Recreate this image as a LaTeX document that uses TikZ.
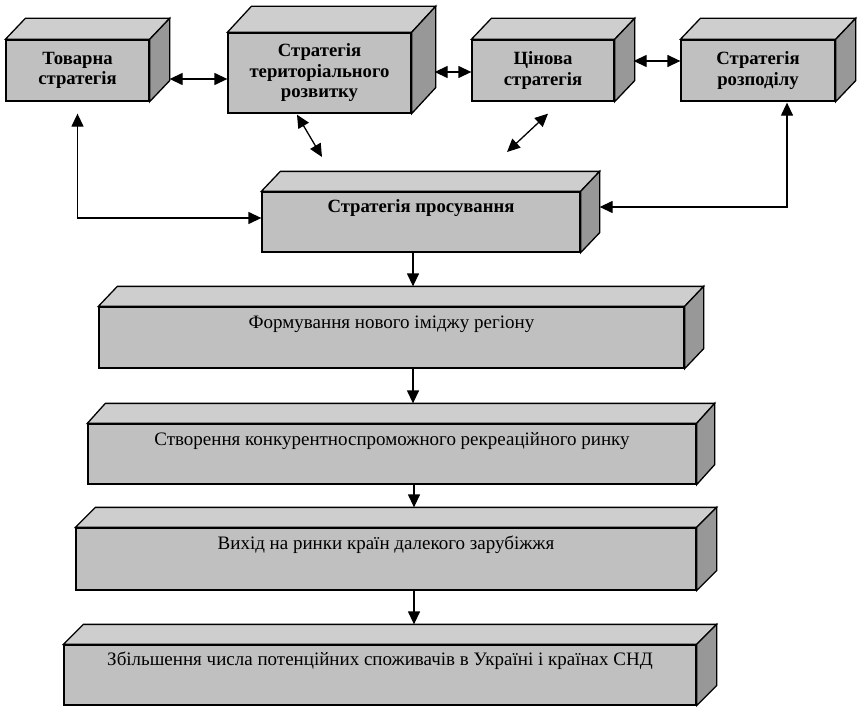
\documentclass[tikz,border=0pt]{standalone}
\usepackage{fontspec}
\setmainfont{Liberation Serif}
\usetikzlibrary{arrows.meta,calc}
\definecolor{frontc}{RGB}{192,192,192}
\definecolor{topc}{RGB}{206,206,206}
\definecolor{sidec}{RGB}{152,152,152}
\newcommand{\cubefaces}[3]{%
  \filldraw[face,fill=topc] (#1.north west) -- ++(#2,-#3) -- ($(#1.north east)+(#2,-#3)$) -- (#1.north east) -- cycle;
  \filldraw[face,fill=sidec] (#1.north east) -- ++(#2,-#3) -- ($(#1.south east)+(#2,-#3)$) -- (#1.south east) -- cycle;
}
\tikzset{
  face/.style={draw=black,line width=1.3pt},
  front/.style={draw=black,fill=frontc,line width=1.3pt,inner sep=0pt,align=center},
  topbox/.style={front,font=\bfseries\fontsize{18.7}{20.5}\selectfont},
  lbl/.style={inner sep=0pt,anchor=base},
  dbl/.style={line width=1.3pt,{Triangle[length=13pt,width=12pt]}-{Triangle[length=13pt,width=12pt]}},
  arr/.style={line width=1.3pt,-{Triangle[length=13pt,width=12pt]}},
  normtxt/.style={lbl,font=\fontsize{19}{22}\selectfont},
}
\begin{document}
\begin{tikzpicture}[x=1pt,y=-1pt]
\useasboundingbox (0,0) rectangle (858,706);
% top row
\node[topbox,minimum width=143pt,minimum height=61pt] (b1) at (77.5,70.5) {Товарна\\стратегія};
\cubefaces{b1}{20}{21}
\node[topbox,minimum width=183pt,minimum height=80pt] (b2) at (319.5,73) {Стратегія\\територіального\\розвитку};
\cubefaces{b2}{24}{26}
\node[topbox,minimum width=142pt,minimum height=61pt] (b3) at (543,70.5) {Цінова\\стратегія};
\cubefaces{b3}{20}{21}
\node[topbox,minimum width=154pt,minimum height=61pt] (b4) at (758,70.5) {Стратегія\\розподілу};
\cubefaces{b4}{20}{21}
% promotion
\node[front,minimum width=318pt,minimum height=60pt] (p) at (421,222) {};
\cubefaces{p}{19}{20}
\node[lbl,font=\bfseries\fontsize{18.7}{20.5}\selectfont] (pt) at ([yshift=-21pt]p.north) {Стратегія просування};
% lower chain
\node[front,minimum width=585pt,minimum height=61pt] (f1) at (391.5,337.5) {};
\cubefaces{f1}{19}{20}
\node[normtxt] (f1t) at ([yshift=-22pt]f1.north) {Формування нового іміджу регіону};
\node[front,minimum width=608pt,minimum height=60pt] (f2) at (392,454) {};
\cubefaces{f2}{18}{20}
\node[normtxt] (f2t) at ([yshift=-22pt]f2.north) {Створення конкурентноспроможного рекреаційного ринку};
\node[front,minimum width=620pt,minimum height=62pt] (f3) at (386,559) {};
\cubefaces{f3}{20}{20}
\node[normtxt] (f3t) at ([yshift=-22pt]f3.north) {Вихід на ринки країн далекого зарубіжжя};
\node[front,minimum width=632pt,minimum height=60pt] (f4) at (380,675) {};
\cubefaces{f4}{20}{20}
\node[normtxt] (f4t) at ([yshift=-21pt]f4.north) {Збільшення числа потенційних споживачів в Україні і країнах СНД};
% connectors top row
\draw[dbl] ([xshift=20pt,yshift=-8.5pt]b1.east) coordinate (s12) -- (s12 -| b2.west);
\draw[dbl] ([xshift=23pt,yshift=1pt]b2.east) coordinate (s23) -- (s23 -| b3.west);
\draw[dbl] ([xshift=19pt,yshift=9.5pt]b3.east) coordinate (s34) -- (s34 -| b4.west);
% diagonal double arrows
\coordinate (d2a) at ([xshift=-22.5pt,yshift=-1pt]b2.south);
\coordinate (d2b) at (322,157);
\draw[dbl] (d2a) -- (d2b);
\coordinate (d3a) at ([xshift=5pt,yshift=-12pt]b3.south);
\coordinate (d3b) at (507,152);
\draw[dbl] (d3a) -- (d3b);
% side loops
\draw[dbl] ([yshift=4pt]p.west) -| ([yshift=-12pt]b1.south);
\draw[dbl] ([xshift=19pt,yshift=15pt]p.east) -| ([xshift=29pt,yshift=-1pt]b4.south);
% vertical chain
\coordinate (t1) at ([yshift=20pt]f1.north);
\coordinate (t2) at ([yshift=20pt]f2.north);
\coordinate (t3) at ([yshift=20pt]f3.north);
\coordinate (t4) at ([yshift=20pt]f4.north);
\draw[arr] ([xshift=-8pt]p.south) coordinate (v0) -- (v0 |- t1);
\draw[arr] ([xshift=21.5pt]f1.south) coordinate (v1) -- (v1 |- t2);
\draw[arr] ([xshift=22pt]f2.south) coordinate (v2) -- (v2 |- t3);
\draw[arr] ([xshift=28pt]f3.south) coordinate (v3) -- (v3 |- t4);
\end{tikzpicture}
\end{document}
